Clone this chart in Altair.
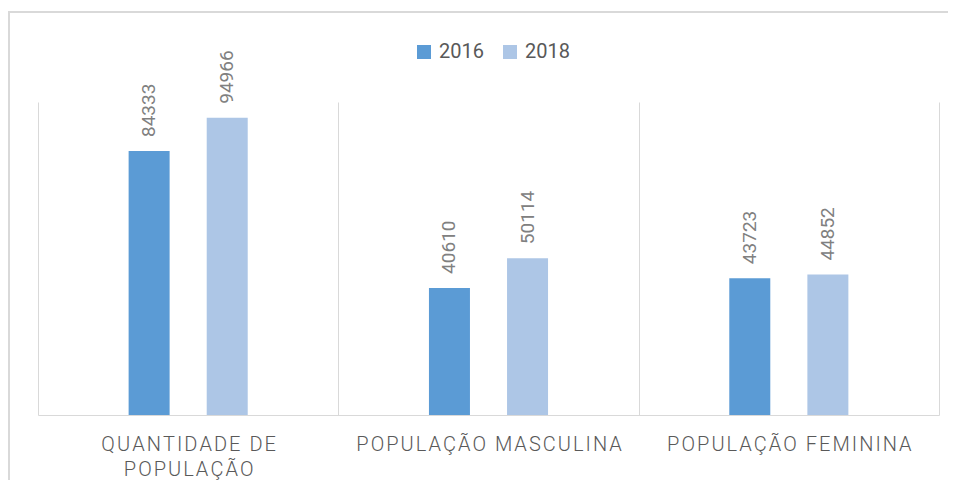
import altair as alt
import pandas as pd

categories = ["QUANTIDADE DE POPULAÇÃO", "POPULAÇÃO MASCULINA", "POPULAÇÃO FEMININA"]
series = ["2016", "2018"]
values_2016 = [84333, 40610, 43723]
values_2018 = [94966, 50114, 44852]
colors = ["#5B9BD5", "#ADC6E6"]

rows = []
for c, a, b in zip(categories, values_2016, values_2018):
    rows.append({"cat": c, "ano": series[0], "valor": a})
    rows.append({"cat": c, "ano": series[1], "valor": b})
df = pd.DataFrame(rows)

first = categories[0]
sp = "join(split({s}, ''), '\u200a')"
label_expr = (
    f"datum.value == '{first}' ? [{sp.format(s=repr('QUANTIDADE DE'))}, {sp.format(s=repr('POPULAÇÃO'))}]"
    f" : {sp.format(s='datum.label')}"
)

x = alt.X(
    "cat:N",
    sort=categories,
    scale=alt.Scale(paddingInner=0, paddingOuter=0),
    axis=alt.Axis(
        title=None, labelAngle=0, tickBand="extent", grid=True,
        gridColor="#D9D9D9", gridWidth=1, domainColor="#D9D9D9", domainWidth=1,
        ticks=False, labelFont="Roboto", labelFontSize=20, labelFontWeight=300,
        labelColor="#595959",
        labelPadding=19, labelLimit=0, labelLineHeight=25, labelExpr=label_expr,
        labelBaseline="top",
    ),
)
xoff = alt.XOffset("ano:N", sort=series, scale=alt.Scale(paddingInner=0, paddingOuter=0.923))
y = alt.Y("valor:Q", scale=alt.Scale(domain=[0, 100000]), axis=None)

bars = alt.Chart(df).mark_bar(width=41).encode(
    x=x, xOffset=xoff, y=y,
    color=alt.Color(
        "ano:N", sort=series,
        scale=alt.Scale(domain=series, range=colors),
        legend=alt.Legend(
            title=None, orient="none", legendX=376, legendY=-60, direction="horizontal",
            symbolType="square", symbolSize=196, symbolStrokeWidth=0, symbolOpacity=1,
            labelFontSize=20, labelFont="Roboto", labelColor="#595959",
            columnPadding=16, labelOffset=5, padding=0,
        ),
    ),
)

labels = alt.Chart(df).mark_text(
    angle=270, align="left", baseline="middle", dx=14, fontSize=19,
    font="Roboto", color="#808080",
).encode(x=x, xOffset=xoff, y=y, text=alt.Text("valor:Q", format="d"))

frame = alt.Data(values=[{}])
top_border = alt.Chart(frame).mark_rect(fill="#D9D9D9", strokeWidth=0).encode(
    x=alt.value(-30), x2=alt.value(910), y=alt.value(-91), y2=alt.value(-89)
)
left_border = alt.Chart(frame).mark_rect(fill="#D9D9D9", strokeWidth=0).encode(
    x=alt.value(-30), x2=alt.value(-28), y=alt.value(-91), y2=alt.value(380)
)

chart = alt.layer(top_border, left_border, bars, labels).properties(
    width=901, height=313,
    autosize=alt.AutoSizeParams(type="none"),
    padding={"left": 30, "top": 94, "right": 9, "bottom": 65},
).configure_view(stroke=None)

chart.save("out.html", embed_options={"renderer": "svg", "actions": False})
